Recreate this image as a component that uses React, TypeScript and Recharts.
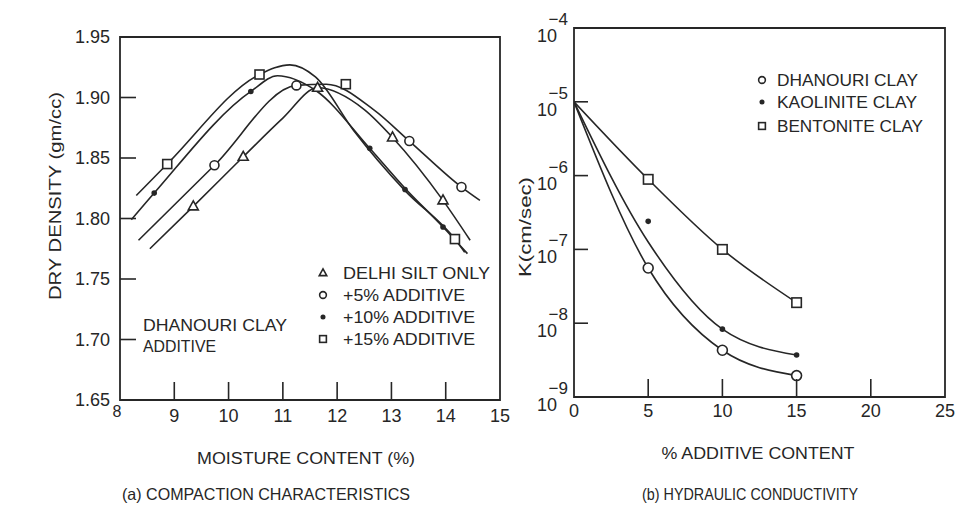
import { ComposedChart, Line, ReferenceArea, Scatter, XAxis, YAxis } from 'recharts';

const INK = '#262626';
const FONT = '"Liberation Sans", Arial, sans-serif';

// (a) compaction: moisture content (%) vs dry density (gm/cc)
const moistureTicks = [8, 9, 10, 11, 12, 13, 14, 15];
const densityTicks = [1.65, 1.7, 1.75, 1.8, 1.85, 1.9, 1.95];

const siltCurve: [number, number][] = [
  [8.55, 1.775], [9.35, 1.81], [10.27, 1.851], [11.0, 1.883], [11.64, 1.908],
  [12.5, 1.89], [13.02, 1.867], [13.95, 1.815], [14.45, 1.782]
];
const siltPoints: [number, number][] = [[9.35, 1.81], [10.27, 1.851], [11.64, 1.908], [13.02, 1.867], [13.95, 1.815]];

const add5Curve: [number, number][] = [
  [8.34, 1.782], [9.74, 1.844], [11.25, 1.91], [11.8, 1.911], [12.67, 1.89],
  [13.33, 1.864], [14.29, 1.826], [14.63, 1.815]
];
const add5Points: [number, number][] = [[9.74, 1.844], [11.25, 1.91], [13.33, 1.864], [14.29, 1.826]];

const add10Curve: [number, number][] = [
  [8.21, 1.799], [8.63, 1.821], [10.41, 1.905], [10.9, 1.918], [11.6, 1.906],
  [12.6, 1.858], [13.25, 1.825], [13.95, 1.793], [14.4, 1.771]
];
const add10Points: [number, number][] = [[8.63, 1.821], [10.41, 1.905], [12.6, 1.858], [13.25, 1.824], [13.95, 1.793]];

const add15Curve: [number, number][] = [
  [8.3, 1.819], [8.87, 1.845], [10.57, 1.919], [11.13, 1.927], [11.6, 1.917],
  [12.3, 1.873], [13.25, 1.823], [14.17, 1.783], [14.35, 1.772]
];
const add15Points: [number, number][] = [[8.87, 1.845], [10.57, 1.919], [12.16, 1.911], [14.17, 1.783]];

// (b) hydraulic conductivity: % additive vs K (cm/sec)
const additiveTicks = [0, 5, 10, 15, 20, 25];
const kTicks = [1e-9, 1e-8, 1e-7, 1e-6, 1e-5, 1e-4];

const dhanouriCurve: [number, number][] = [[0, 1e-5], [5, 5.6e-8], [10, 4.3e-9], [15, 1.95e-9]];
const dhanouriPoints: [number, number][] = [[5, 5.6e-8], [10, 4.3e-9], [15, 1.95e-9]];
const kaoliniteCurve: [number, number][] = [[0, 1e-5], [5, 1.26e-7], [10, 8.3e-9], [15, 3.7e-9]];
const kaolinitePoints: [number, number][] = [[5, 2.4e-7], [10, 8.3e-9], [15, 3.7e-9]];
const bentoniteCurve: [number, number][] = [[0, 1e-5], [5, 8.9e-7], [10, 1.0e-7], [15, 1.9e-8]];
const bentonitePoints: [number, number][] = [[5, 8.9e-7], [10, 1.0e-7], [15, 1.9e-8]];

const pts = (rows: [number, number][]) => rows.map(([x, y]) => ({ x, y }));

type MarkProps = { cx?: number; cy?: number; s?: number };

const OpenCircle = ({ cx = 0, cy = 0, s = 1 }: MarkProps) => (
  <circle cx={cx} cy={cy} r={4.5 * s} fill="#fff" stroke={INK} strokeWidth={1.6} />
);
const FilledDot = ({ cx = 0, cy = 0, s = 1 }: MarkProps) => <circle cx={cx} cy={cy} r={2.8 * s} fill={INK} />;
const OpenSquare = ({ cx = 0, cy = 0, s = 1 }: MarkProps) => (
  <rect x={cx - 4.5 * s} y={cy - 4.5 * s} width={9 * s} height={9 * s} fill="#fff" stroke={INK} strokeWidth={1.6} />
);
const OpenTriangle = ({ cx = 0, cy = 0, s = 1 }: MarkProps) => (
  <polygon
    points={`${cx},${cy - 5.5 * s} ${cx + 5 * s},${cy + 3.5 * s} ${cx - 5 * s},${cy + 3.5 * s}`}
    fill="#fff"
    stroke={INK}
    strokeWidth={1.6}
  />
);

const DensityTick = (props: any) => {
  const { x, y, payload } = props;
  const v = payload.value as number;
  const edge = Math.abs(v - 1.65) < 1e-6 || Math.abs(v - 1.95) < 1e-6;
  return (
    <g>
      {!edge && <line x1={x} x2={x + 16} y1={y} y2={y} stroke={INK} strokeWidth={1.6} />}
      <text x={x - 10} y={y} dy="0.36em" textAnchor="end" fontSize={18} fill={INK} fontFamily={FONT}>
        {v.toFixed(2)}
      </text>
    </g>
  );
};

const MoistureTick = (props: any) => {
  const { x, y, payload } = props;
  const v = payload.value as number;
  const edge = v === 8 || v === 15;
  return (
    <g>
      {!edge && <line x1={x} x2={x} y1={y} y2={y - 18} stroke={INK} strokeWidth={1.6} />}
      <text
        x={v === 8 ? x - 3 : x}
        y={v === 8 ? y + 17 : y + 22}
        textAnchor="middle"
        fontSize={v === 8 ? 16 : 18}
        fill={INK}
        fontFamily={FONT}
      >
        {v}
      </text>
    </g>
  );
};

const KTick = (props: any) => {
  const { x, y, payload } = props;
  const exp = Math.round(Math.log10(payload.value));
  const edge = exp === -9 || exp === -4;
  return (
    <g fill={INK} fontFamily={FONT}>
      {!edge && <line x1={x} x2={x + 14} y1={y} y2={y} stroke={INK} strokeWidth={1.6} />}
      <text x={x - 17} y={y + 14} textAnchor="end" fontSize={18}>
        10
      </text>
      <text x={x - 6} y={y - 3} textAnchor="end" fontSize={17}>
        {'\u2212' + -exp}
      </text>
    </g>
  );
};

const AdditiveTick = (props: any) => {
  const { x, y, payload } = props;
  const v = payload.value as number;
  const edge = v === 0 || v === 25;
  return (
    <g>
      {!edge && <line x1={x} x2={x} y1={y} y2={y - 18} stroke={INK} strokeWidth={1.6} />}
      <text x={x} y={y + 20} textAnchor="middle" fontSize={18} fill={INK} fontFamily={FONT}>
        {v}
      </text>
    </g>
  );
};

const lineProps = {
  dataKey: 'y',
  type: 'monotone' as const,
  stroke: INK,
  strokeWidth: 1.6,
  dot: false,
  activeDot: false,
  isAnimationActive: false
};

function CompactionChart() {
  return (
    <ComposedChart width={520} height={517} margin={{ top: 37, right: 20, bottom: 0, left: 0 }}>
      <XAxis
        type="number"
        dataKey="x"
        domain={[8, 15]}
        ticks={moistureTicks}
        interval={0}
        height={117}
        tickSize={0}
        tickMargin={0}
        axisLine={false}
        tickLine={false}
        tick={<MoistureTick />}
        allowDataOverflow
      />
      <YAxis
        type="number"
        dataKey="y"
        domain={[1.65, 1.95]}
        ticks={densityTicks}
        interval={0}
        width={120}
        tickSize={0}
        tickMargin={0}
        axisLine={false}
        tickLine={false}
        tick={<DensityTick />}
        allowDataOverflow
      />
      <ReferenceArea x1={8} x2={15} y1={1.65} y2={1.95} fill="none" stroke={INK} strokeWidth={1.8} />
      <Line data={pts(siltCurve)} {...lineProps} />
      <Line data={pts(add5Curve)} {...lineProps} />
      <Line data={pts(add10Curve)} {...lineProps} />
      <Line data={pts(add15Curve)} {...lineProps} />
      <Scatter data={pts(siltPoints)} shape={(p: any) => <OpenTriangle cx={p.cx} cy={p.cy} />} isAnimationActive={false} />
      <Scatter data={pts(add5Points)} shape={(p: any) => <OpenCircle cx={p.cx} cy={p.cy} />} isAnimationActive={false} />
      <Scatter data={pts(add10Points)} shape={(p: any) => <FilledDot cx={p.cx} cy={p.cy} />} isAnimationActive={false} />
      <Scatter data={pts(add15Points)} shape={(p: any) => <OpenSquare cx={p.cx} cy={p.cy} />} isAnimationActive={false} />
    </ComposedChart>
  );
}

function ConductivityChart() {
  return (
    <ComposedChart width={475} height={517} margin={{ top: 28, right: 10, bottom: 0, left: 0 }}>
      <XAxis
        type="number"
        dataKey="x"
        domain={[0, 25]}
        ticks={additiveTicks}
        interval={0}
        height={120}
        tickSize={0}
        tickMargin={0}
        axisLine={false}
        tickLine={false}
        tick={<AdditiveTick />}
        allowDataOverflow
      />
      <YAxis
        type="number"
        dataKey="y"
        scale="log"
        domain={[1e-9, 1e-4]}
        ticks={kTicks}
        interval={0}
        width={94}
        tickSize={0}
        tickMargin={0}
        axisLine={false}
        tickLine={false}
        tick={<KTick />}
        allowDataOverflow
      />
      <ReferenceArea x1={0} x2={25} y1={1e-9} y2={1e-4} fill="none" stroke={INK} strokeWidth={1.8} />
      <Line data={pts(dhanouriCurve)} {...lineProps} />
      <Line data={pts(kaoliniteCurve)} {...lineProps} />
      <Line data={pts(bentoniteCurve)} {...lineProps} />
      <Scatter data={pts(dhanouriPoints)} shape={(p: any) => <OpenCircle cx={p.cx} cy={p.cy} s={1.1} />} isAnimationActive={false} />
      <Scatter data={pts(kaolinitePoints)} shape={(p: any) => <FilledDot cx={p.cx} cy={p.cy} />} isAnimationActive={false} />
      <Scatter data={pts(bentonitePoints)} shape={(p: any) => <OpenSquare cx={p.cx} cy={p.cy} s={1.05} />} isAnimationActive={false} />
    </ComposedChart>
  );
}

const Label = ({ x, y, w, children, anchor = 'start', size = 16 }: any) => (
  <text x={x} y={y} textAnchor={anchor} fontSize={size} textLength={w} lengthAdjust="spacingAndGlyphs">
    {children}
  </text>
);

export default function App() {
  return (
    <div style={{ position: 'absolute', left: 0, top: 0, width: 955, height: 517, background: '#fff', overflow: 'hidden' }}>
      <div style={{ position: 'absolute', left: 0, top: 0 }}>
        <CompactionChart />
      </div>
      <div style={{ position: 'absolute', left: 480, top: 0 }}>
        <ConductivityChart />
      </div>
      <svg
        width={955}
        height={517}
        style={{ position: 'absolute', left: 0, top: 0, pointerEvents: 'none' }}
        fill={INK}
        fontFamily={FONT}
      >
        {/* (a) labels */}
        <text x={0} y={0} fontSize={17} textAnchor="middle" textLength={208} lengthAdjust="spacingAndGlyphs" transform="translate(61,196) rotate(-90)">
          DRY DENSITY (gm/cc)
        </text>
        <OpenTriangle cx={323} cy={273} s={0.75} />
        <OpenCircle cx={323} cy={295} s={0.75} />
        <FilledDot cx={323} cy={317} s={0.9} />
        <OpenSquare cx={323} cy={339} s={0.75} />
        <Label x={343} y={279} w={147}>DELHI SILT ONLY</Label>
        <Label x={343} y={301} w={122}>+5% ADDITIVE</Label>
        <Label x={343} y={323} w={132}>+10% ADDITIVE</Label>
        <Label x={343} y={345} w={132}>+15% ADDITIVE</Label>
        <Label x={143} y={331} w={144}>DHANOURI CLAY</Label>
        <Label x={143} y={352} w={73}>ADDITIVE</Label>
        <Label x={306} y={464} w={218} anchor="middle">MOISTURE CONTENT (%)</Label>
        <Label x={266} y={500} w={288} anchor="middle" size={16.5}>(a) COMPACTION CHARACTERISTICS</Label>

        {/* (b) labels */}
        <text x={0} y={0} fontSize={17} textAnchor="middle" textLength={100} lengthAdjust="spacingAndGlyphs" transform="translate(531,227) rotate(-90)">
          K(cm/sec)
        </text>
        <OpenCircle cx={762} cy={80} s={0.75} />
        <FilledDot cx={762} cy={102} s={0.9} />
        <OpenSquare cx={762} cy={126} s={0.75} />
        <Label x={777} y={86} w={141}>DHANOURI CLAY</Label>
        <Label x={777} y={108} w={140}>KAOLINITE CLAY</Label>
        <Label x={777} y={132} w={146}>BENTONITE CLAY</Label>
        <Label x={758} y={459} w={193} anchor="middle">% ADDITIVE CONTENT</Label>
        <Label x={750} y={500} w={216} anchor="middle" size={16.5}>(b) HYDRAULIC CONDUCTIVITY</Label>
      </svg>
    </div>
  );
}
